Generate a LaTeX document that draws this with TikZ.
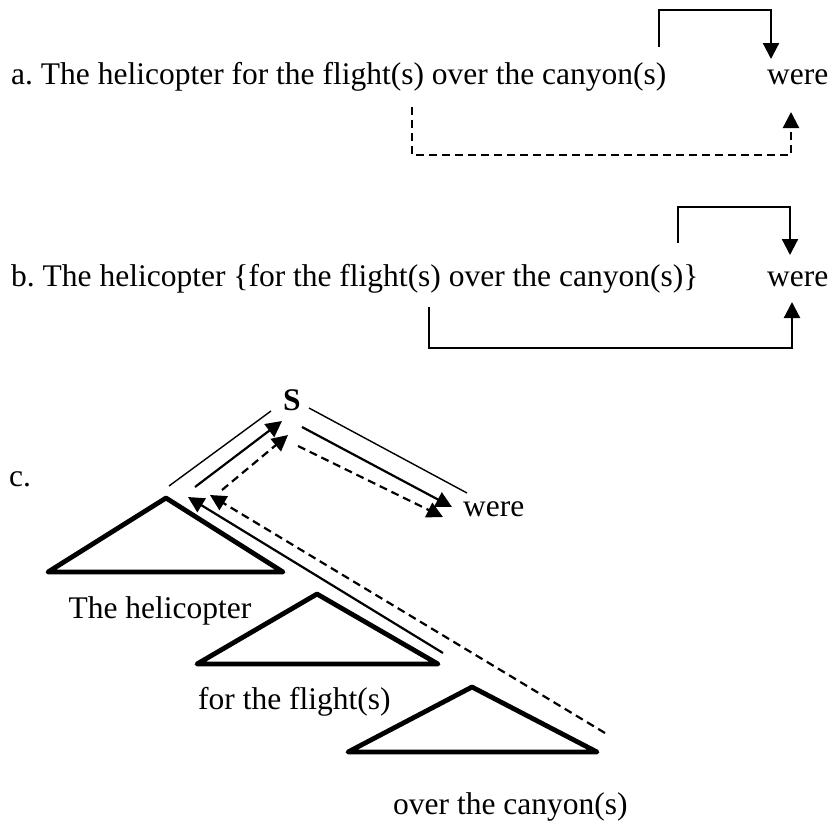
\documentclass[tikz,border=0pt]{standalone}
\usepackage{fontspec}
\setmainfont{Liberation Serif}
\usetikzlibrary{arrows.meta,positioning,calc}
\frenchspacing

\tikzset{
  sent/.style={anchor=base west, inner sep=0pt, font=\fontsize{31.5}{36}\selectfont},
  hop/.style={line width=2.2pt, -{Triangle[length=16pt,width=16pt]}},
  hopdash/.style={hop, dash pattern=on 8pt off 5pt},
  branch/.style={line width=1.4pt},
  phrase/.style={line width=4.8pt, line join=round},
}

\begin{document}
\begin{tikzpicture}[x=1pt,y=-1pt]
\useasboundingbox (0,0) rectangle (830,823);

% a. plain sentence
\node[sent] (sentA) at (11,84) {a. The helicopter for the flight(s) over the canyon(s)};
\node[sent] (wereA) at (767,84) {were};
\coordinate (canA) at (659,47);
\coordinate (tipA) at (771,59);
\coordinate (fltA) at (412,107);
\coordinate (tipA2) at (791,112);
\draw[hop] (canA) -- ++(0,-37) -| (tipA);
\draw[hopdash] (fltA) -- ++(0,48) -| (tipA2);

% b. bracketed modifier
\node[sent] (sentB) at (11,286) {b. The helicopter \{for the flight(s) over the canyon(s)\}};
\node[sent] (wereB) at (767,286) {were};
\coordinate (canB) at (678,243);
\coordinate (tipB) at (790,255);
\coordinate (fltB) at (429,307);
\coordinate (tipB2) at (792,302);
\draw[hop] (canB) -- ++(0,-36) -| (tipB);
\draw[hop] (fltB) -- ++(0,41) -| (tipB2);

% c. tree
\node[sent] (labC) at (9,486) {c.};
\node[sent, anchor=base, font=\fontsize{31.5}{36}\selectfont\bfseries] (S) at (292,410) {S};
\node[sent] (wereC) at (463,516) {were};

\coordinate (np1) at (166,498);
\coordinate (pp1) at (317,594);
\coordinate (pp2) at (472,687);
\draw[phrase] (48,572) -- (np1) -- (283,572) -- cycle;
\draw[phrase] (197,664) -- (pp1) -- (438,664) -- cycle;
\draw[phrase] (348,752) -- (pp2) -- (597,752) -- cycle;

\node[sent, anchor=base] (headNP) at (160,618) {The helicopter};
\node[sent] (headPP1) at (198,709) {for the flight(s)};
\node[sent] (headPP2) at (393,814) {over the canyon(s)};

% branches
\coordinate (brL1) at (169,486);
\coordinate (brL2) at (271,411);
\coordinate (brR1) at (309,408);
\coordinate (brR2) at (467,493);
\draw[branch] (brL1) -- (brL2);
\draw[branch] (brR1) -- (brR2);

% agreement paths
\coordinate (upS) at (195,487);
\coordinate (topS) at (282,421);
\coordinate (upD) at (222,490);
\coordinate (topD) at (288,435);
\coordinate (dnS) at (302,427);
\coordinate (endS) at (452,507);
\coordinate (dnD) at (298,446);
\coordinate (endD) at (443,517);
\coordinate (lowS) at (443,653);
\coordinate (npS) at (188,497);
\coordinate (lowD) at (605,733);
\coordinate (npD) at (210,495);
\draw[hop] (upS) -- (topS);
\draw[hopdash] (upD) -- (topD);
\draw[hop] (dnS) -- (endS);
\draw[hopdash] (dnD) -- (endD);
\draw[hop] (lowS) -- (npS);
\draw[hopdash] (lowD) -- (npD);
\end{tikzpicture}
\end{document}
